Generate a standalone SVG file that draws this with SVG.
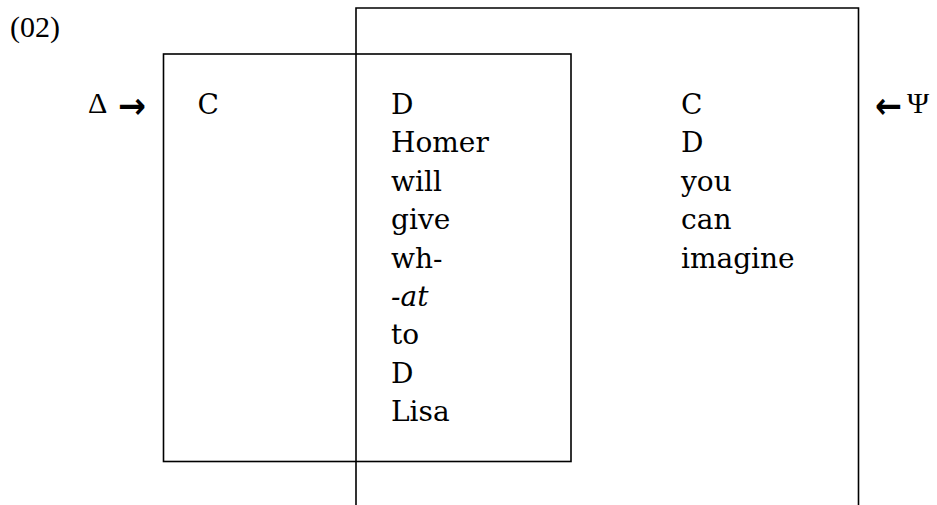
<svg xmlns="http://www.w3.org/2000/svg" width="937" height="505" viewBox="0 0 937 505">
<style>
.box{fill:none;stroke:#000;stroke-width:1.6}
.t{font-family:"DejaVu Serif","Liberation Serif",serif;font-size:28px;fill:#000}
.it{font-style:italic}
.s{font-family:"Liberation Serif","DejaVu Serif",serif;font-size:30px;fill:#000}
.ar{font-family:"DejaVu Sans","Liberation Sans",sans-serif;font-size:36px;font-weight:bold;fill:#000}
</style>
<rect width="937" height="505" fill="#fff"/>
<text class="s" x="10" y="37">(02)</text>
<g id="connectors">
<text class="s" x="88" y="113">Δ</text>
<text class="ar" x="118" y="117.5" textLength="28" lengthAdjust="spacingAndGlyphs">→</text>
<text class="ar" x="875" y="117.5" textLength="27" lengthAdjust="spacingAndGlyphs">←</text>
<text class="s" x="907" y="113">Ψ</text>
</g>
<g id="right-box">
<path class="box" d="M356,505 V8 H858.5 V505"/>
<text class="t" x="681" y="114">C</text>
<text class="t" x="681" y="152.4">D</text>
<text class="t" x="681" y="190.8">you</text>
<text class="t" x="681" y="229.2">can</text>
<text class="t" x="681" y="267.6">imagine</text>
</g>
<g id="left-box">
<rect class="box" x="163.5" y="54" width="407.5" height="407.5"/>
<text class="t" x="197.5" y="114">C</text>
<text class="t" x="391" y="114">D</text>
<text class="t" x="391" y="152.4">Homer</text>
<text class="t" x="391" y="190.8">will</text>
<text class="t" x="391" y="229.2">give</text>
<text class="t" x="391" y="267.6">wh-</text>
<text class="t it" x="391" y="306">-at</text>
<text class="t" x="391" y="344.4">to</text>
<text class="t" x="391" y="382.8">D</text>
<text class="t" x="391" y="421.2">Lisa</text>
</g>
</svg>
